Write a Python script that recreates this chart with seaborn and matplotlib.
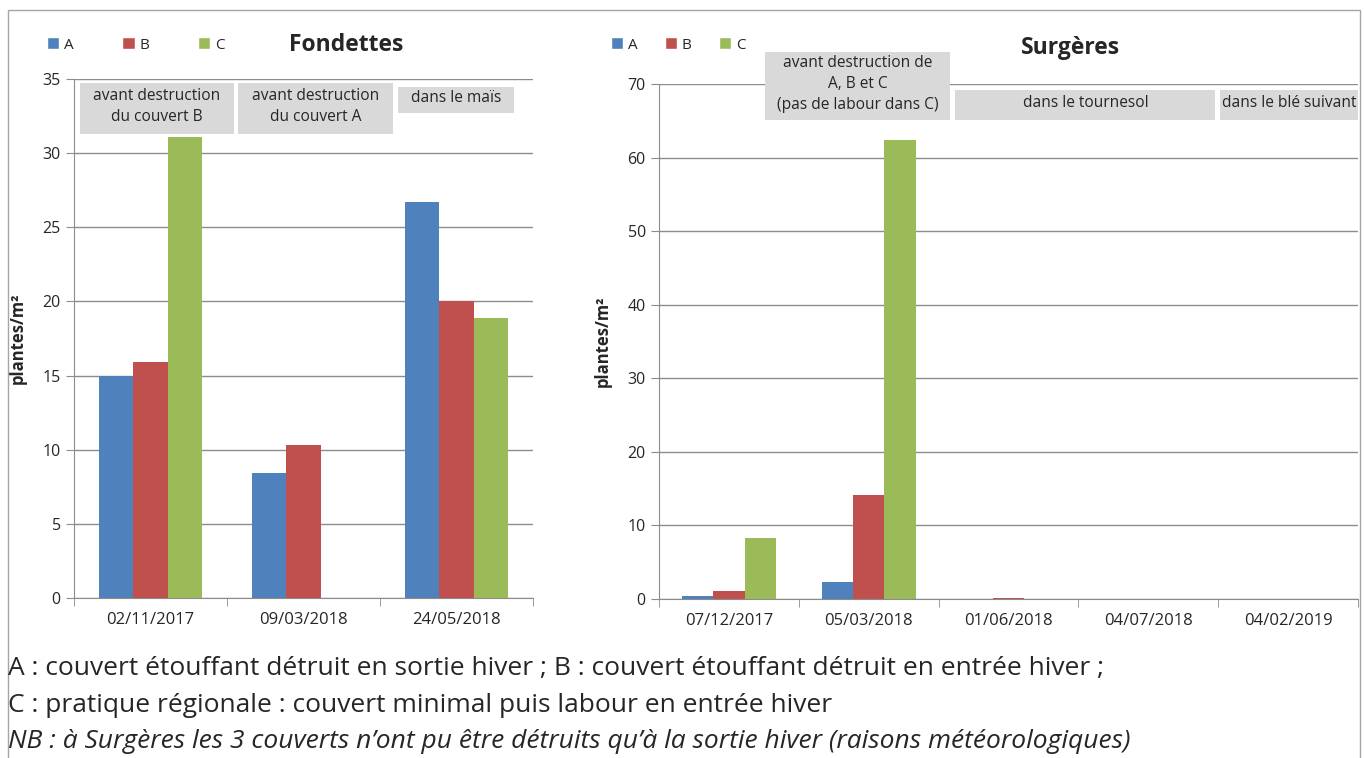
import pandas as pd
import seaborn as sns
import matplotlib.pyplot as plt
from matplotlib.patches import Patch, Rectangle

# Fondettes
fond_dates = ['02/11/2017', '09/03/2018', '24/05/2018']
fond_A = [15.0, 8.4, 26.7]
fond_B = [15.9, 10.3, 20.0]
fond_C = [31.1, 0.0, 18.9]

# Surgères
surg_dates = ['07/12/2017', '05/03/2018', '01/06/2018', '04/07/2018', '04/02/2019']
surg_A = [0.4, 2.3, 0.0, 0.0, 0.0]
surg_B = [1.1, 14.1, 0.2, 0.0, 0.0]
surg_C = [8.3, 62.4, 0.0, 0.0, 0.0]

series = ['A', 'B', 'C']
colors = ['#4F81BD', '#C0504D', '#9BBB59']

fond_notes = ['avant destruction\ndu couvert B', 'avant destruction\ndu couvert A', 'dans le maïs']
surg_notes = ['avant destruction de\nA, B et C\n(pas de labour dans C)', 'dans le tournesol',
              'dans le blé suivant']

legend_txt = ['A : couvert étouffant détruit en sortie hiver ; B : couvert étouffant détruit en entrée hiver ;',
              'C : pratique régionale : couvert minimal puis labour en entrée hiver',
              'NB : à Surgères les 3 couverts n\u2019ont pu être détruits qu\u2019à la sortie hiver (raisons météorologiques)']

sns.set_style('white')
plt.rcParams['font.family'] = ['Open Sans', 'DejaVu Sans']

grey = '#8c8c8c'


def long_df(dates, a, b, c):
    return pd.DataFrame({
        'date': dates * 3,
        'val': a + b + c,
        'couvert': ['A'] * len(dates) + ['B'] * len(dates) + ['C'] * len(dates),
    })


def draw(ax, df, ymax, step, notes, boxes, label_x):
    sns.barplot(data=df, x='date', y='val', hue='couvert', hue_order=series,
                palette=colors, saturation=1, width=0.67, ax=ax, legend=False,
                linewidth=0)
    n = df['date'].nunique()
    ax.set_xlim(-0.5, n - 0.5)
    ax.set_ylim(0, ymax)
    ax.set_yticks(range(0, ymax + 1, step))
    ax.yaxis.grid(True, color=grey, lw=1)
    ax.set_axisbelow(True)
    for s in ['top', 'right']:
        ax.spines[s].set_visible(False)
    for s in ['left', 'bottom']:
        ax.spines[s].set_color(grey)
    ax.set_xticks([i - 0.5 for i in range(n + 1)], minor=True)
    ax.tick_params(axis='x', which='major', length=0, labelsize=12, pad=10)
    ax.tick_params(axis='x', which='minor', length=6, color=grey, direction='out', bottom=True)
    ax.tick_params(axis='y', length=6, color=grey, direction='out', labelsize=11.5, left=True)
    ax.set_xlabel('')
    ax.set_ylabel('plantes/m²', fontweight='bold', fontsize=12)
    ax.yaxis.set_label_coords(label_x, 0.5)
    for txt, (x0, x1, y0, y1) in zip(notes, boxes):
        ax.add_patch(Rectangle((x0, y0), x1 - x0, y1 - y0, transform=ax.transAxes,
                               facecolor='#d9d9d9', edgecolor='none', clip_on=False, zorder=3))
        ax.text((x0 + x1) / 2, (y0 + y1) / 2 + 0.004, txt, transform=ax.transAxes, ha='center',
                va='center', fontsize=11.2, linespacing=1.4, zorder=4)


fig = plt.figure(figsize=(13.64, 7.58), dpi=100)

ax1 = fig.add_axes([74 / 1364, 1 - 598 / 758, 459 / 1364, 519 / 758])
draw(ax1, long_df(fond_dates, fond_A, fond_B, fond_C), 35, 5, fond_notes,
     [(0.013, 0.349, 0.894, 0.992), (0.357, 0.695, 0.894, 0.992), (0.706, 0.959, 0.934, 0.985)],
     -0.103)

ax2 = fig.add_axes([659 / 1364, 1 - 599 / 758, 699 / 1364, 515 / 758])
draw(ax2, long_df(surg_dates, surg_A, surg_B, surg_C), 70, 10, surg_notes,
     [(0.152, 0.416, 0.930, 1.062), (0.424, 0.796, 0.930, 0.988), (0.802, 1.0, 0.930, 0.988)],
     -0.067)

# titles
fig.text(346 / 1364, 1 - 45 / 758, 'Fondettes', ha='center', va='center', fontsize=16.5, fontweight='bold')
fig.text(1070 / 1364, 1 - 48 / 758, 'Surgères', ha='center', va='center', fontsize=16.5, fontweight='bold')

# legends
handles = [Patch(facecolor=c, label=s) for c, s in zip(colors, series)]
for x, cs in [(47 / 1364, 3.2), (611 / 1364, 1.8)]:
    fig.legend(handles=handles, loc='center left', bbox_to_anchor=(x, 1 - 45 / 758), ncol=3,
               frameon=False, fontsize=11, handlelength=0.8, handleheight=0.8,
               handletextpad=0.3, columnspacing=cs, borderpad=0, borderaxespad=0)

# text under the charts
for i, (t, y) in enumerate(zip(legend_txt, [669, 706, 741])):
    fig.text(8 / 1364, 1 - y / 758, t, ha='left', va='center', fontsize=19,
             style='italic' if i == 2 else 'normal')

# outer frame
fig.patches.append(Rectangle((8 / 1364, -0.01), 1352 / 1364, 1.01 - 10 / 758,
                             transform=fig.transFigure, fill=False, edgecolor='#a6a6a6', lw=1))

fig.savefig('out.png', dpi=100)
